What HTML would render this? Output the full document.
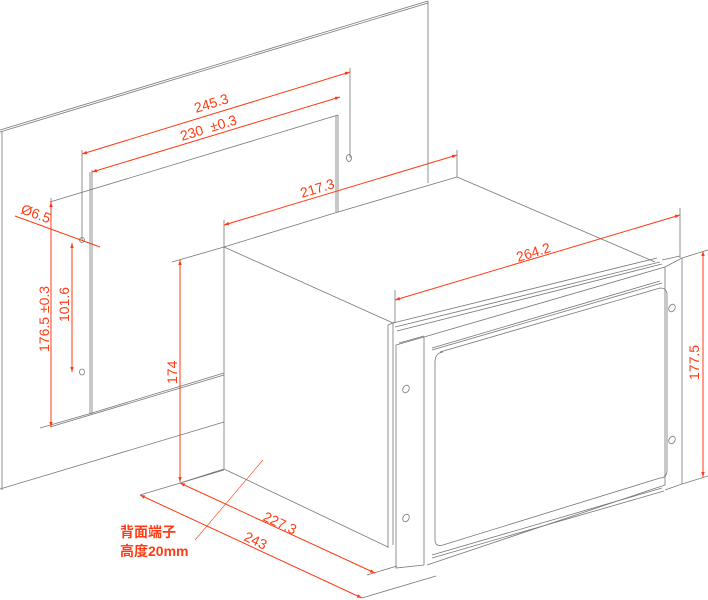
<!DOCTYPE html>
<html><head><meta charset="utf-8"><style>html,body{margin:0;padding:0;background:#fff}svg{display:block}</style></head><body>
<svg width="708" height="600" viewBox="0 0 708 600" xmlns="http://www.w3.org/2000/svg" font-family="Liberation Sans, Noto Sans CJK SC, sans-serif">
<defs>
<marker id="a" viewBox="0 0 10 10" refX="10" refY="5" markerWidth="8" markerHeight="5" orient="auto-start-reverse"><path d="M0,1.5 L10,5 L0,8.5 z" fill="#ff3b14"/></marker>
</defs>
<g stroke="#777" stroke-width="0.8" fill="none">
<path d="M0,130 L428,1 M0,132 L428,3"/>
<path d="M2,131 V490 M428,1 V183"/>
<path d="M0,489 L224,422"/>
<path d="M50,202 L338,115 M338,115 V212 M336,116 V212"/>
<path d="M92,170 V414 M90,172 V414"/>
<path d="M50,427 L224,375 M92,413 L224,373"/>
<path d="M338,212 L457,177 M224,247 L338,212"/>
<path d="M224,247 V469 M224,247 L393,323 M457,177 L655,262 M457,177 V150"/>
<path d="M224,469 L388,547 M180,483 L224,469 M140,495 L224,470"/>
<path d="M367,575 L397,566 M362,598 L436,576"/>
<path d="M388,325 V548 M393,323 V545 M388,325 L395,322"/>
<path d="M393,323 L657,258 M395,327 L660,262 M397,331 L662,264"/>
<path d="M396,345 V568 L424,565 M396,345 L424,337 M399,343 L424,336"/>
<path d="M424,337 L665,267 V485 L427,565 M424,337 V565"/>
<path d="M432,348 L660,281 M432,350 L662,283"/>
<path d="M440,352 L660,288 Q667,288 667,295 V470 Q667,478 660,478 L443,545 Q435,547 435,540 V362 Q435,353 443,352"/>
<path d="M432,555 L662,488 M432,558 L664,491"/>
<path d="M665,267 L682,258 V484 L665,490 M662,260 L680,256"/>
<path d="M82,150 V240 M350,68 V158 M51,198 V202 M680,208 V258 M395,290 V322 M224,220 V247"/>
<path d="M172,262 L224,247 M682,258 L708,250 M682,484 L708,476"/>
<path d="M40,428 L92,413"/>
</g>
<g fill="none" stroke="#777" stroke-width="0.8">
<ellipse cx="349" cy="158" rx="2.5" ry="3.5"/>
<ellipse cx="82" cy="240" rx="2.5" ry="2.5"/>
<ellipse cx="82" cy="372" rx="2.5" ry="3"/>
<ellipse cx="406" cy="389" rx="3" ry="4" transform="rotate(30 406 389)"/>
<ellipse cx="406" cy="518" rx="3" ry="4" transform="rotate(30 406 518)"/>
<ellipse cx="672" cy="308" rx="3" ry="4" transform="rotate(30 672 308)"/>
<ellipse cx="672" cy="440" rx="3" ry="4" transform="rotate(30 672 440)"/>
</g>
<g stroke="#ff3b14" stroke-width="1" fill="none">
<line x1="82" y1="154" x2="350" y2="72" marker-start="url(#a)" marker-end="url(#a)"/>
<line x1="92" y1="172" x2="340" y2="97" marker-start="url(#a)" marker-end="url(#a)"/>
<line x1="224" y1="225" x2="457" y2="155" marker-start="url(#a)" marker-end="url(#a)"/>
<line x1="395" y1="300" x2="680" y2="215" marker-start="url(#a)" marker-end="url(#a)"/>
<line x1="703" y1="251" x2="703" y2="477" marker-start="url(#a)" marker-end="url(#a)"/>
<line x1="180" y1="260" x2="180" y2="482" marker-start="url(#a)" marker-end="url(#a)"/>
<line x1="51" y1="202" x2="51" y2="427" marker-start="url(#a)" marker-end="url(#a)"/>
<line x1="72" y1="243" x2="72" y2="372" marker-start="url(#a)" marker-end="url(#a)"/>
<line x1="180" y1="483" x2="375" y2="573" marker-start="url(#a)" marker-end="url(#a)"/>
<line x1="140" y1="495" x2="362" y2="598" marker-start="url(#a)" marker-end="url(#a)"/>
<line x1="15" y1="216" x2="100" y2="247"/>
<line x1="195" y1="540" x2="263" y2="460" stroke-width="0.6"/>
</g>
<g fill="#ff3b14" font-size="14">
<text transform="translate(196,113) rotate(-17)">245.3</text>
<text transform="translate(182,141) rotate(-17)">230 &#160;±0.3</text>
<text transform="translate(302,198) rotate(-17)">217.3</text>
<text transform="translate(518,262) rotate(-17)">264.2</text>
<text transform="translate(699,380) rotate(-90)">177.5</text>
<text transform="translate(177,384) rotate(-90)">174</text>
<text transform="translate(49,352) rotate(-90)">176.5 ±0.3</text>
<text transform="translate(69,322) rotate(-90)">101.6</text>
<text transform="translate(20,213) rotate(20)">Ø6.5</text>
<text transform="translate(262,520) rotate(25)">227.3</text>
<text transform="translate(243,540) rotate(25)">243</text>
<text x="120" y="537" font-size="14" font-weight="bold">背面端子</text>
<text x="120" y="556" font-size="14" font-weight="bold">高度20mm</text>
</g>
</svg>
</body></html>
